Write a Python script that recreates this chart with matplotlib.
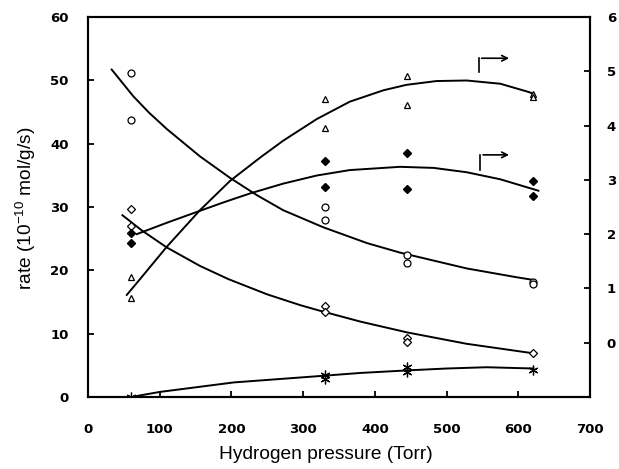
import numpy as np
import matplotlib
matplotlib.use("Agg")
import matplotlib.pyplot as plt

plt.rcParams['mathtext.default'] = 'regular'

# =========================
# DATA
# =========================
# left axis series
circ_x = [60, 60, 330, 330, 445, 445, 620, 620]
circ_y = [51.2, 43.7, 30.0, 27.9, 22.4, 21.2, 18.2, 17.8]

odia_x = [60, 60, 330, 330, 445, 445, 620]
odia_y = [29.7, 27.0, 14.4, 13.5, 9.3, 8.7, 6.9]

star_x = [60, 330, 330, 445, 445, 620]
star_y = [0.0, 3.4, 2.8, 4.8, 4.0, 4.3]

# right axis series
tri_x = [60, 60, 330, 330, 445, 445, 620, 620]
tri_y = [1.21, 0.82, 4.49, 3.95, 4.91, 4.38, 4.58, 4.52]

fdia_x = [60, 60, 330, 330, 445, 445, 620, 620]
fdia_y = [2.02, 1.84, 3.35, 2.86, 3.49, 2.84, 2.98, 2.70]

# trend curves (knots)
circ_fit_x = [33, 63, 85, 110, 156, 198, 235, 272, 328, 389, 435, 528, 598, 620]
circ_fit_y = [51.7, 47.5, 44.9, 42.3, 38.0, 34.6, 31.9, 29.5, 26.8, 24.3, 22.8, 20.3, 18.9, 18.5]

odia_fit_x = [48, 75, 110, 156, 196, 250, 296, 324, 380, 445, 528, 621]
odia_fit_y = [28.7, 26.3, 23.6, 20.7, 18.6, 16.2, 14.5, 13.6, 11.9, 10.2, 8.4, 6.9]

star_fit_x = [65, 100, 203, 310, 380, 445, 500, 556, 621]
star_fit_y = [0.1, 0.8, 2.3, 3.2, 3.8, 4.2, 4.5, 4.7, 4.5]

tri_fit_x = [54, 68, 110, 156, 198, 240, 272, 319, 365, 412, 444, 486, 528, 575, 614, 622]
tri_fit_y = [0.88, 1.10, 1.77, 2.44, 2.98, 3.41, 3.72, 4.12, 4.44, 4.65, 4.75, 4.82, 4.83,
             4.77, 4.62, 4.58]

fdia_fit_x = [68, 110, 152, 190, 226, 272, 319, 365, 435, 482, 528, 575, 628]
fdia_fit_y = [2.00, 2.21, 2.41, 2.59, 2.75, 2.93, 3.08, 3.18, 3.24, 3.22, 3.14, 3.01, 2.80]

# arrows pointing to the right axis: (x, y_start, y_top, x_end)
tri_arrow = (545, 4.99, 5.24, 591)
fdia_arrow = (547, 3.18, 3.46, 591)

# =========================
# FIGURE
# =========================
fig = plt.figure(figsize=(6.19, 4.69), dpi=100)
ax = fig.add_axes([0.1422, 0.1535, 0.811, 0.8103])
ax2 = ax.twinx()

lw = 1.4
ms = 5
ax.plot(circ_fit_x, circ_fit_y, color='black', lw=lw)
ax.plot(odia_fit_x, odia_fit_y, color='black', lw=lw)
ax.plot(star_fit_x, star_fit_y, color='black', lw=lw)
ax2.plot(tri_fit_x, tri_fit_y, color='black', lw=lw)
ax2.plot(fdia_fit_x, fdia_fit_y, color='black', lw=lw)

ax.plot(circ_x, circ_y, 'o', mfc='white', mec='black', ms=ms, mew=0.9, zorder=5)
ax.plot(odia_x, odia_y, 'D', mfc='white', mec='black', ms=4.2, mew=0.9, zorder=5)
ax.plot(star_x, star_y, marker=(6, 2, 0), ls='none', color='black', ms=7, mew=0.9, zorder=5)
ax2.plot(tri_x, tri_y, '^', mfc='white', mec='black', ms=ms, mew=0.9, zorder=5)
ax2.plot(fdia_x, fdia_y, 'D', color='black', ms=4.2, zorder=5)

for x0, y0, y1, x1 in [tri_arrow, fdia_arrow]:
    ax2.plot([x0, x0], [y0, y1], color='black', lw=1.2)
    ax2.annotate('', xy=(x1, y1), xytext=(x0, y1),
                 arrowprops=dict(arrowstyle='->', color='black', lw=1.2))

ax.set_xlim(0, 700)
ax.set_ylim(0, 60)
ax2.set_ylim(-1, 6)
ax.set_xticks(range(0, 701, 100))
ax.set_yticks(range(0, 61, 10))
ax2.set_yticks(range(0, 7))

for a in (ax, ax2):
    for s in a.spines.values():
        s.set_linewidth(1.5)
    a.tick_params(direction='in', length=4, width=1.3)
    for lab in a.get_xticklabels() + a.get_yticklabels():
        lab.set_fontfamily('DejaVu Sans')
        lab.set_fontweight('bold')
        lab.set_fontsize(9.5)
ax.tick_params(axis='x', pad=19)
ax.tick_params(axis='y', pad=14)
ax2.tick_params(axis='y', pad=12)

fig.text(0.527, 0.030, 'Hydrogen pressure (Torr)', ha='center', va='center',
         fontsize=13.8, family='Liberation Sans')
fig.text(0.042, 0.556, 'rate (10$^{-10}$ mol/g/s)', ha='center', va='center',
         rotation=90, fontsize=13.8, family='Liberation Sans')

fig.savefig('out.png', dpi=100)
